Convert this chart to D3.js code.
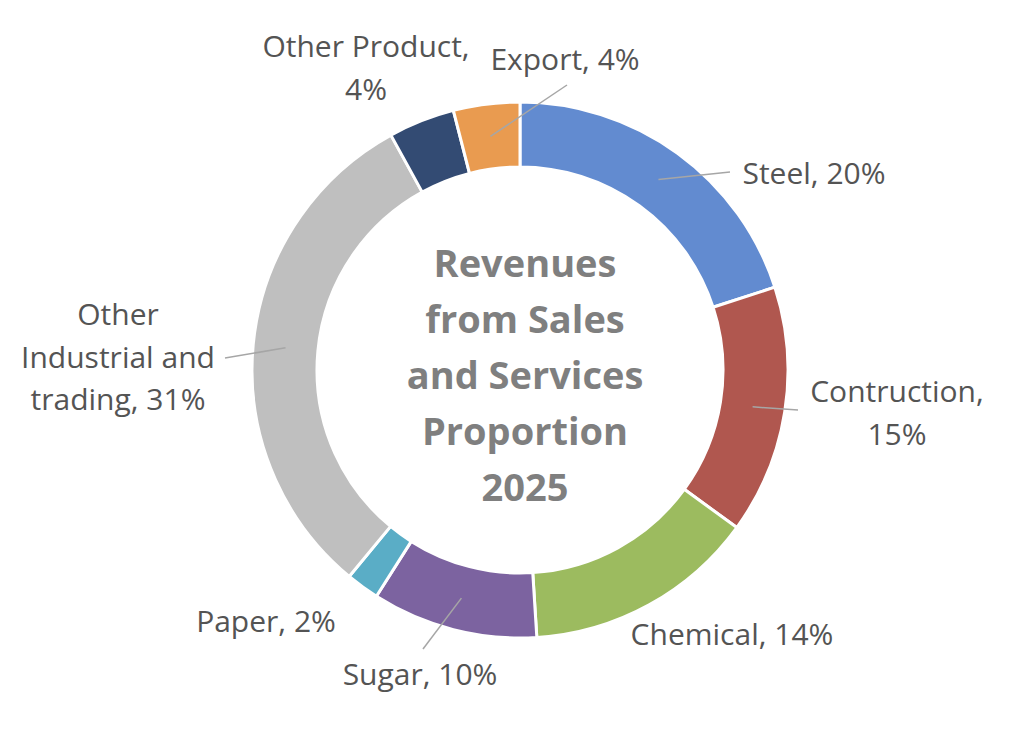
<!DOCTYPE html>
<html>
<head>
<meta charset="utf-8">
<script src="https://cdn.jsdelivr.net/npm/d3@7"></script>
<style>
  html, body { margin: 0; padding: 0; background: #ffffff; }
  svg { display: block; }
</style>
</head>
<body>
<div id="donut_viz"></div>
<script>

// 1. Data

const categories = [
    "Steel",
    "Contruction",
    "Chemical",
    "Sugar",
    "Paper",
    "Other Industrial and trading",
    "Other Product",
    "Export"
]

const shares = [20, 15, 14, 10, 2, 31, 4, 4]

// how each label is broken into lines (as in the original)
const labelLines = [
    ["Steel, 20%"],
    ["Contruction,", "15%"],
    ["Chemical, 14%"],
    ["Sugar, 10%"],
    ["Paper, 2%"],
    ["Other", "Industrial and", "trading, 31%"],
    ["Other Product,", "4%"],
    ["Export, 4%"]
]

const titleLines = ["Revenues", "from Sales", "and Services", "Proportion", "2025"]

const palette = ["#628bd0", "#b0574f", "#9cbb5f", "#7c63a0", "#5aadc6", "#bfbfbf", "#334b73", "#e99b50"]

// label placement, relative to the donut centre (text anchor + leader end)
const labelLayout = [
    {x: 294, y: -186, lx: 210, ly: -198},
    {x: 377, y: 32, lx: 278, ly: 40},
    {x: 212, y: 275},
    {x: -100, y: 315, lx: -97, ly: 279},
    {x: -254, y: 262},
    {x: -402, y: -45, lx: -295, ly: -12},
    {x: -154, y: -313},
    {x: 45, y: -300, lx: 47, ly: -285}
]

// 2. Dimensions

let dimensions = {
    width: 1024,
    height: 744,
    cx: 520,
    cy: 370,
    outerRadius: 268,
    innerRadius: 203,
}

const data = categories.map((c, i) => ({name: c, value: shares[i], lines: labelLines[i], layout: labelLayout[i]}))

// 3. Canvas

const svg = d3.select("#donut_viz")
    .append("svg")
        .attr("width", dimensions.width)
        .attr("height", dimensions.height)

const bounds = svg.append("g")
    .attr("transform", `translate(${dimensions.cx},${dimensions.cy})`)
    .style("font-family", "'Open Sans', 'Noto Sans', sans-serif")

// 4. Scales / generators

const colorScale = d3.scaleOrdinal()
    .domain(categories)
    .range(palette)

const pie = d3.pie()
    .value(d => d.value)
    .sort(null)

const arc = d3.arc()
    .innerRadius(dimensions.innerRadius)
    .outerRadius(dimensions.outerRadius)

const arcs = pie(data)

// 5. Slices

bounds.append("g")
    .selectAll("path")
    .data(arcs)
    .join("path")
        .attr("d", arc)
        .attr("fill", d => colorScale(d.data.name))
        .attr("stroke", "#ffffff")
        .attr("stroke-width", 3)
        .attr("stroke-linejoin", "round")

// leader lines, from the slice centroid to the label
bounds.append("g")
    .selectAll("line")
    .data(arcs.filter(d => d.data.layout.lx !== undefined))
    .join("line")
        .attr("x1", d => arc.centroid(d)[0])
        .attr("y1", d => arc.centroid(d)[1])
        .attr("x2", d => d.data.layout.lx)
        .attr("y2", d => d.data.layout.ly)
        .attr("stroke", "#a6a6a6")
        .attr("stroke-width", 1.5)

// labels
const labels = bounds.append("g")
    .selectAll("text")
    .data(arcs)
    .join("text")
        .attr("text-anchor", "middle")
        .attr("fill", "#545454")
        .attr("font-size", 30)

labels.selectAll("tspan")
    .data(d => d.data.lines.map((t, i) => ({t, i, layout: d.data.layout})))
    .join("tspan")
        .attr("x", d => d.layout.x)
        .attr("y", d => d.layout.y + d.i * 42.5)
        .text(d => d.t)

// centre title
bounds.append("text")
    .attr("text-anchor", "middle")
    .attr("fill", "#7f7f7f")
    .attr("font-size", 38)
    .attr("font-weight", 700)
    .selectAll("tspan")
    .data(titleLines)
    .join("tspan")
        .attr("x", 5)
        .attr("y", (d, i) => -93 + i * 56)
        .text(d => d)

</script>
</body>
</html>
